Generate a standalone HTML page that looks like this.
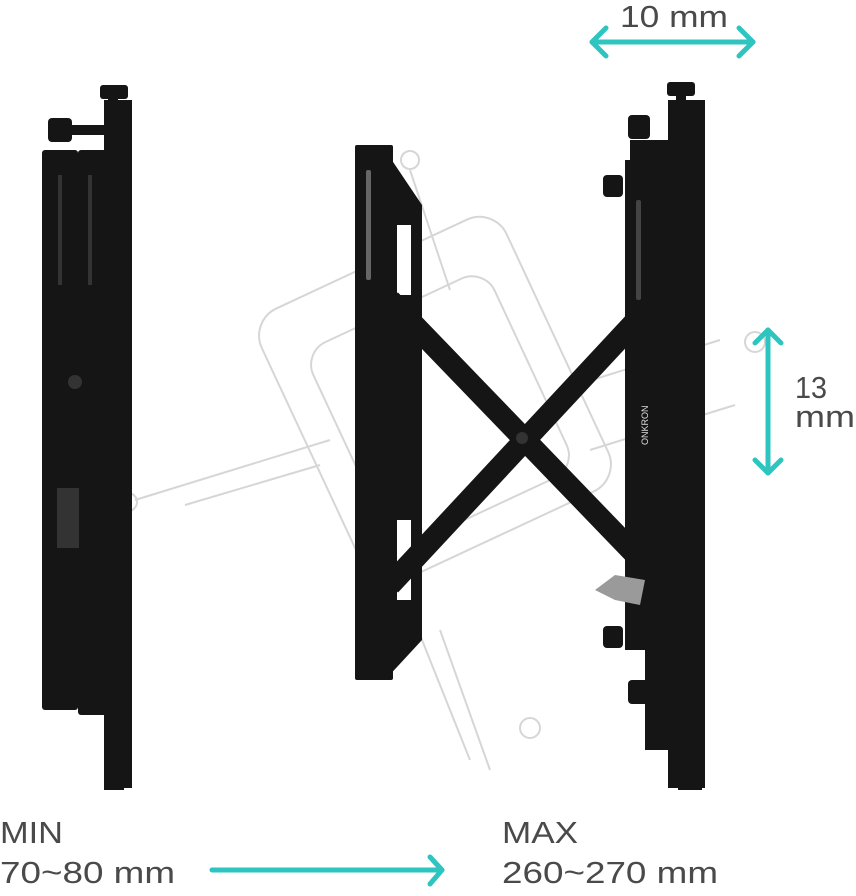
<!DOCTYPE html>
<html><head><meta charset="utf-8"><style>
html,body{margin:0;padding:0;background:#fff;}
svg{display:block}
text{font-family:"Liberation Sans",sans-serif;fill:#4a4a4a}
</style></head><body>
<svg width="856" height="896" viewBox="0 0 856 896" xmlns="http://www.w3.org/2000/svg">
<g fill="none" stroke="#d6d6d6" stroke-width="2">
<rect x="300" y="250" width="270" height="300" rx="30" transform="rotate(-25 435 400)"/>
<rect x="340" y="300" width="200" height="220" rx="25" transform="rotate(-25 440 410)"/>
<line x1="135" y1="500" x2="330" y2="440"/><line x1="185" y1="505" x2="320" y2="465"/>
<line x1="720" y1="340" x2="560" y2="390"/><line x1="735" y1="405" x2="590" y2="450"/>
<line x1="410" y1="170" x2="450" y2="290"/><line x1="420" y1="635" x2="470" y2="760"/><line x1="440" y1="630" x2="490" y2="770"/>
<circle cx="410" cy="160" r="9"/><circle cx="530" cy="728" r="10"/><circle cx="755" cy="342" r="10"/><circle cx="128" cy="502" r="9"/>
</g>
<g fill="#151515">
<rect x="104" y="100" width="28" height="688"/>
<rect x="42" y="150" width="36" height="560" rx="3"/>
<rect x="78" y="150" width="36" height="565" rx="3"/>
<rect x="100" y="85" width="28" height="14" rx="3"/>
<rect x="108" y="95" width="10" height="15"/>
<rect x="48" y="118" width="24" height="24" rx="4"/>
<rect x="70" y="125" width="34" height="10"/>
<rect x="48" y="683" width="24" height="24" rx="4"/>
<rect x="70" y="690" width="34" height="10"/>
<rect x="104" y="715" width="20" height="75"/>
</g>
<g fill="#333"><rect x="58" y="175" width="4" height="110"/><rect x="88" y="175" width="4" height="110"/><circle cx="75" cy="382" r="7"/><rect x="57" y="488" width="22" height="60"/></g>
<g fill="#151515">
<rect x="355" y="145" width="38" height="535" rx="2"/>
<polygon points="385,150 422,205 422,640 385,680"/>
</g>
<g fill="#fff"><rect x="397" y="225" width="14" height="70"/><rect x="397" y="520" width="14" height="80"/></g>
<g fill="#fff" opacity="0.35"><rect x="366" y="170" width="5" height="110" rx="2"/></g>
<g fill="#151515">
<rect x="668" y="100" width="37" height="688"/>
<rect x="625" y="160" width="45" height="490"/>
<polygon points="630,140 690,140 690,170 630,170"/>
<rect x="667" y="82" width="28" height="14" rx="3"/>
<rect x="676" y="92" width="10" height="15"/>
<rect x="628" y="115" width="22" height="24" rx="4"/>
<rect x="603" y="175" width="20" height="22" rx="4"/>
<rect x="603" y="626" width="20" height="22" rx="4"/>
<rect x="628" y="680" width="22" height="24" rx="4"/>
<rect x="645" y="650" width="30" height="100"/>
<rect x="678" y="740" width="24" height="50"/>
</g>
<polygon points="595,590 615,575 645,580 640,605 615,600" fill="#9a9a9a"/>
<g fill="#444"><rect x="636" y="200" width="5" height="100" rx="2"/></g>
<text x="648" y="445" font-size="9" transform="rotate(-90 648 445)" style="fill:#ddd">ONKRON</text>
<g stroke="#151515" stroke-width="22">
<line x1="390" y1="300" x2="660" y2="580"/>
<line x1="660" y1="295" x2="390" y2="585"/>
</g>
<circle cx="522" cy="438" r="6" fill="#333"/>
<g stroke="#2ec4bf" stroke-width="5" fill="none" stroke-linecap="round" stroke-linejoin="round">
<line x1="592" y1="42" x2="753" y2="42"/>
<polyline points="606,28 592,42 606,56"/><polyline points="739,28 753,42 739,56"/>
<line x1="768" y1="330" x2="768" y2="473"/>
<polyline points="755,343 768,330 781,343"/><polyline points="755,460 768,473 781,460"/>
<line x1="212" y1="870" x2="440" y2="870"/>
<polyline points="430,857 442,870 430,884"/>
</g>
<g font-size="31">
<text x="620" y="27" textLength="108" lengthAdjust="spacingAndGlyphs">10 mm</text>
<text x="795" y="398" textLength="32" lengthAdjust="spacingAndGlyphs">13</text>
<text x="795" y="427" textLength="60" lengthAdjust="spacingAndGlyphs">mm</text>
<text x="0" y="843" textLength="63" lengthAdjust="spacingAndGlyphs">MIN</text>
<text x="0" y="883" textLength="175" lengthAdjust="spacingAndGlyphs">70~80 mm</text>
<text x="502" y="843" textLength="76" lengthAdjust="spacingAndGlyphs">MAX</text>
<text x="502" y="883" textLength="216" lengthAdjust="spacingAndGlyphs">260~270 mm</text>
</g>
</svg>
</body></html>
